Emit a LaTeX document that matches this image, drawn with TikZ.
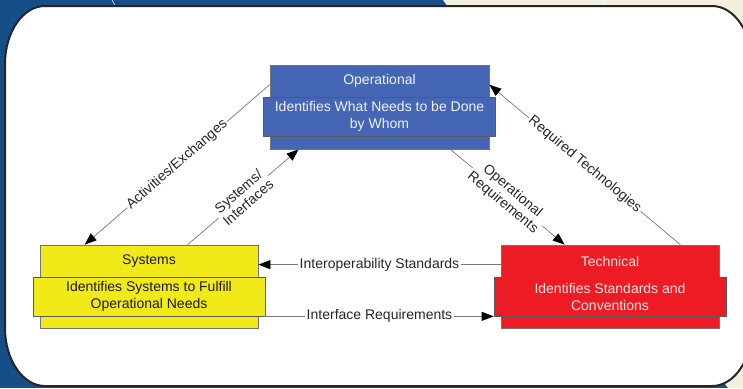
\documentclass[tikz,border=0pt]{standalone}
\usepackage{fontspec}
\setmainfont{Liberation Sans}
\usetikzlibrary{arrows.meta}
\definecolor{bgblue}{RGB}{22,78,135}
\definecolor{bgbeige}{RGB}{243,241,222}
\definecolor{opblue}{RGB}{69,101,181}
\definecolor{sysyellow}{RGB}{242,233,24}
\definecolor{techred}{RGB}{237,28,36}
\definecolor{linegray}{RGB}{120,120,120}
\tikzset{
  x=1pt, y=-1pt,
  backbox/.style={draw=black!55, line width=0.7pt, minimum width=218pt, minimum height=83pt, inner sep=0pt},
  frontbox/.style={draw=black!65, line width=0.7pt, minimum width=232pt, minimum height=39pt, inner sep=0pt, align=center, font=\fontsize{14}{17}\selectfont},
  titletext/.style={font=\fontsize{14}{17}\selectfont, inner sep=0pt},
  conn/.style={draw=linegray, line width=0.7pt, -{Triangle[length=12pt,width=9pt,color=black]}},
  lbl/.style={fill=white, inner sep=1.5pt, align=center, font=\fontsize{14}{15}\selectfont, text=black!85}
}
\begin{document}
\begin{tikzpicture}
\useasboundingbox (0,0) rectangle (743,388);
\clip (0,0) rectangle (743,388);
% background
\fill[bgblue] (0,0) rectangle (743,388);
\fill[bgbeige] (443,0) -- (743,0) -- (743,388) -- (728,388) -- cycle;
\draw[white, line width=0.5pt] (112,0) -- (116,7);
\draw[white!85!bgbeige, line width=0.5pt] (604,0) -- (604,7);
% white panel
\filldraw[fill=white, draw=black!85, line width=2pt]
  (45,6) -- (712,6) arc[start angle=-90, end angle=0, x radius=40, y radius=58]
  -- (752,328) arc[start angle=0, end angle=90, x radius=40, y radius=58]
  -- (45,386) arc[start angle=90, end angle=180, x radius=40, y radius=58]
  -- (5,64) arc[start angle=180, end angle=270, x radius=40, y radius=58] -- cycle;
% Operational
\node[backbox, fill=opblue, minimum width=219pt, minimum height=84pt] (op) at (379.5,107) {};
\node[titletext, text=white!92!opblue] (opt) at (379.5,81) {Operational};
\node[frontbox, fill=opblue, text=white!92!opblue] (opf) at (379.5,116.5) {Identifies What Needs to be Done\\by Whom};
% Systems
\node[backbox, fill=sysyellow] (sys) at (149,286.5) {};
\node[titletext, text=black!90] (syst) at (149,261) {Systems};
\node[frontbox, fill=sysyellow, text=black!90] (sysf) at (149,296.5) {Identifies Systems to Fulfill\\Operational Needs};
% Technical
\node[backbox, fill=techred] (tech) at (610,286.5) {};
\node[titletext, text=white!90!techred] (techt) at (610,261) {Technical};
\node[frontbox, fill=techred, text=white!90!techred] (techf) at (610,296.5) {Identifies Standards and\\Conventions};
% connectors
\draw[conn] ([yshift=-20pt]op.north west) -- node[lbl, rotate=41] {Activities/Exchanges} ([xshift=45pt]sys.north west);
\draw[conn] ([xshift=148pt]sys.north west) -- node[lbl, rotate=41] {Systems/\\Interfaces} ([xshift=29pt]op.south west);
\draw[conn] ([xshift=-39pt]op.south east) -- node[lbl, rotate=-40] {Operational\\Requirements} ([xshift=64pt]tech.north west);
\draw[conn] ([xshift=-39pt]tech.north east) -- node[lbl, rotate=-40] {Required Technologies} ([yshift=-20pt]op.north east);
\draw[conn] ([yshift=-20pt]tech.north west) -- node[lbl] {Interoperability Standards} ([yshift=-20pt]sys.north east);
\draw[conn] (sysf.south east) -- node[lbl] {Interface Requirements} (techf.south west);
\end{tikzpicture}
\end{document}
